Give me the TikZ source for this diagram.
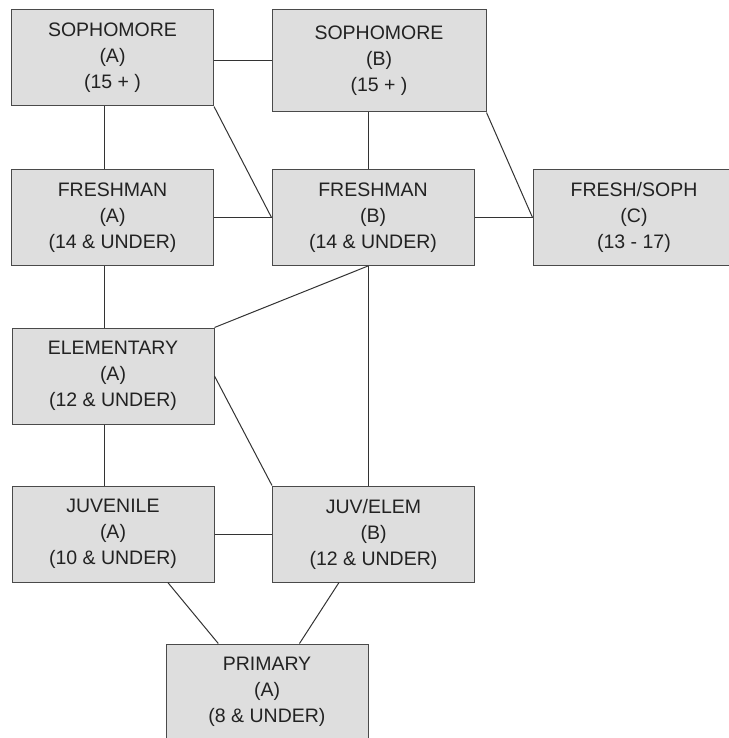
\documentclass[tikz,border=0pt]{standalone}
\usepackage{fontspec}
\setmainfont{Liberation Sans}
\usepackage{tikz}
\usetikzlibrary{
    calc,
    positioning
}
\definecolor{boxgray}{HTML}{DEDEDE}
\definecolor{framegray}{HTML}{4A4A4A}
\definecolor{textgray}{HTML}{222222}
\tikzset{
  division/.style = {
      draw=framegray,
      fill=boxgray,
      rectangle,
      line width=1pt,
      minimum width=202pt,
      minimum height=96pt,
      inner sep=0pt,
      align=center,
      text=textgray,
      font=\fontsize{19.5}{26}\selectfont
  },
  wide/.style = {
      division,
      minimum width=214pt,
      minimum height=102pt
  },
  link/.style = {
      line width=1pt,
      draw=black!80
  }
}

\begin{document}
\begin{tikzpicture}[x=1pt, y=-1pt]
        \useasboundingbox (0,0) rectangle (728,738);
        \node[division] (sophA) at (112.5,58) {SOPHOMORE\\(A)\\(15 + )};
        \node[wide] (sophB) at (379,61) {SOPHOMORE\\(B)\\(15 + )};
        \node[division] (freshA) at (112.5,217.5) {FRESHMAN\\(A)\\(14 \& UNDER)};
        \node[division] (freshB) at (373,217.5) {FRESHMAN\\(B)\\(14 \& UNDER)};
        \node[division] (freshC) at (634,217.5) {FRESH/SOPH\\(C)\\(13 - 17)};
        \node[division] (elemA) at (113,376) {ELEMENTARY\\(A)\\(12 \& UNDER)};
        \node[division] (juvA) at (113,534) {JUVENILE\\(A)\\(10 \& UNDER)};
        \node[division] (juvB) at (373.5,534) {JUV/ELEM\\(B)\\(12 \& UNDER)};
        \node[division] (primA) at (267,692) {PRIMARY\\(A)\\(8 \& UNDER)};
        % Columns of the vertical links
        \coordinate (colA) at (104,0);
        \coordinate (colB) at (368,0);
        % Edges
        \draw[link] (sophB.west -| sophA.east) -- (sophB.west);
        \draw[link] (sophA.south -| colA) -- (freshA.north -| colA);
        \draw[link] (sophB.south -| colB) -- (freshB.north -| colB);
        \draw[link] (sophA.south east) -- (freshB.west);
        \draw[link] (sophB.south east) -- (freshC.west);
        \draw[link] (freshA.east) -- (freshB.west);
        \draw[link] (freshB.east) -- (freshC.west);
        \draw[link] (freshA.south -| colA) -- (elemA.north -| colA);
        \draw[link] (freshB.south -| colB) -- (elemA.north east);
        \draw[link] (freshB.south -| colB) -- (juvB.north -| colB);
        \draw[link] (elemA.east) -- (juvB.north west);
        \draw[link] (elemA.south -| colA) -- (juvA.north -| colA);
        \draw[link] (juvA.east) -- (juvB.west);
        \draw[link] ($(juvA.south west)!.77!(juvA.south east)$) -- ($(primA.north west)!.26!(primA.north east)$);
        \draw[link] ($(juvB.south west)!.33!(juvB.south east)$) -- ($(primA.north west)!.66!(primA.north east)$);
    \end{tikzpicture}
\end{document}
